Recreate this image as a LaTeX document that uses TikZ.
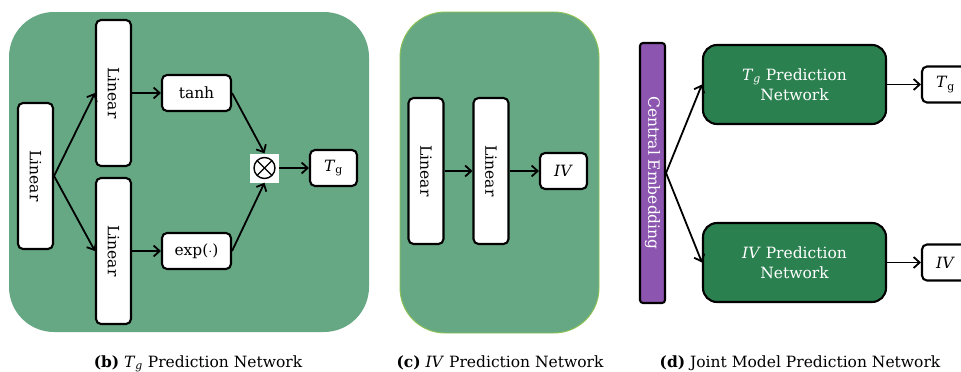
\documentclass[tikz,border=0pt]{standalone}
\usepackage{fontspec}
\setmainfont{DejaVu Serif}
\usetikzlibrary{arrows.meta}
\definecolor{pgreen}{RGB}{103,168,132}
\definecolor{pborder}{RGB}{140,195,80}
\definecolor{dgreen}{RGB}{43,128,80}
\definecolor{purp}{RGB}{140,85,175}
\newcommand{\TgU}{\textit{T}\textsubscript{g}}
\newcommand{\TgI}{\textit{T}\textsubscript{\textit{g}}}
\tikzset{
  panel/.style={fill=pgreen, rounded corners=45pt},
  wbox/.style={draw, line width=2.1pt, fill=white, rounded corners=5pt, inner sep=0pt},
  linbox/.style={wbox, minimum width=35pt, minimum height=146pt},
  smallbox/.style={wbox, minimum width=69pt, minimum height=36pt},
  outbox/.style={wbox, minimum width=47pt, minimum height=36pt},
  gbox/.style={draw, line width=2.1pt, fill=dgreen, text=white, rounded corners=14pt, minimum width=183pt, minimum height=79pt, align=center, inner sep=0pt, font=\fontsize{15.5}{20}\selectfont},
  arr/.style={line width=1.8pt, -{Straight Barb[length=6pt,width=11pt,line width=1.8pt]}},
  lbl/.style={font=\fontsize{15.5}{18}\selectfont},
  captxt/.style={font=\fontsize{15.5}{18}\selectfont, anchor=base}
}
\begin{document}
\begin{tikzpicture}[x=1pt,y=-1pt, every node/.style={lbl}]
\useasboundingbox (0,0) rectangle (961,372);
% panel b
\fill[panel] (9,12) rectangle (369,332);
\node[linbox] (l0) at (35.5,176) {};
\node[rotate=-90] at (l0) {Linear};
\node[linbox] (l1) at (113.5,93) {};
\node[rotate=-90] at (l1) {Linear};
\node[linbox] (l2) at (113.5,251) {};
\node[rotate=-90] at (l2) {Linear};
\node[smallbox] (tanh) at (196.5,93) {tanh};
\node[smallbox] (exp) at (196.5,251) {exp($\cdot$)};
\node[fill=white, minimum size=29pt, inner sep=0pt] (ot) at (264.5,168) {};
\draw[line width=1.4pt] (ot) circle (10.5pt);
\draw[line width=1.4pt] (ot.center) +(-7.4pt,-7.4pt) -- +(7.4pt,7.4pt);
\draw[line width=1.4pt] (ot.center) +(-7.4pt,7.4pt) -- +(7.4pt,-7.4pt);
\node[outbox] (tg) at (333.5,168) {\TgU};
\draw[arr] (l0.east) -- (l1.west);
\draw[arr] (l0.east) -- (l2.west);
\draw[arr] (l1.east) -- (tanh.west);
\draw[arr] (l2.east) -- (exp.west);
\draw[arr] (tanh.east) -- (ot.north);
\draw[arr] (exp.east) -- (ot.south);
\draw[arr] (ot.east) -- (tg.west);
\node[captxt] (capb) at (198,367) {\textbf{(b)} \TgI{} Prediction Network};
% panel c
\filldraw[panel, draw=pborder, line width=0.9pt] (400,12) rectangle (599,333);
\node[linbox] (c1) at (426,171) {};
\node[rotate=-90] at (c1) {Linear};
\node[linbox] (c2) at (491,171) {};
\node[rotate=-90] at (c2) {Linear};
\node[outbox] (iv) at (563.5,171) {\textit{IV}};
\draw[arr] (c1.east) -- (c2.west);
\draw[arr] (c2.east) -- (iv.west);
\node[captxt] (capc) at (500,367) {\textbf{(c)} \textit{IV} Prediction Network};
% panel d
\node[draw, line width=2.1pt, fill=purp, rounded corners=3pt, minimum width=25pt, minimum height=260pt, inner sep=0pt] (ce) at (652.5,173) {};
\node[rotate=-90, text=white] at (ce) {Central Embedding};
\node[gbox] (gt) at (794.5,84.5) {\TgI{} Prediction\\Network};
\node[gbox] (gi) at (794.5,262.5) {\textit{IV} Prediction\\Network};
\node[outbox] (ot1) at (945.5,84.5) {\TgU};
\node[outbox] (ot2) at (945.5,262.5) {\textit{IV}};
\draw[arr] (ce.east) -- (gt.west);
\draw[arr] (ce.east) -- (gi.west);
\draw[arr] (gt.east) -- (ot1.west);
\draw[arr] (gi.east) -- (ot2.west);
\node[captxt] (capd) at (800,367) {\textbf{(d)} Joint Model Prediction Network};
\end{tikzpicture}
\end{document}
